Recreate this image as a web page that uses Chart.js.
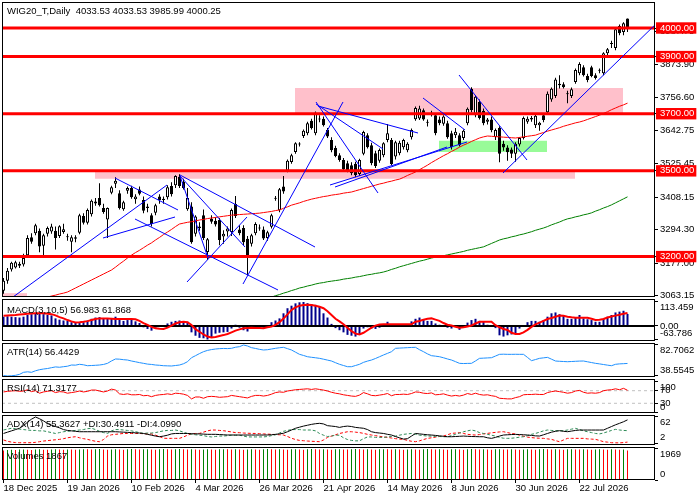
<!DOCTYPE html>
<html>
<head>
<meta charset="utf-8">
<script src="https://cdn.jsdelivr.net/npm/chart.js@4.4.1/dist/chart.umd.min.js"></script>
<style>
  body { margin: 0; background: #fff; width: 700px; height: 500px; overflow: hidden; position: relative; }
  canvas { position: absolute; left: 0; }
  .lbl { position: absolute; left: 7px; font: 9.5px 'Liberation Sans', Arial, sans-serif; color: #000; white-space: pre; line-height: 12px; }
</style>
</head>
<body>
<canvas id="cMain"></canvas>
<canvas id="cMacd"></canvas>
<canvas id="cAtr"></canvas>
<canvas id="cRsi"></canvas>
<canvas id="cAdx"></canvas>
<canvas id="cVol"></canvas>

<div class="lbl" style="top:5px">WIG20_T,Daily  4033.53 4033.53 3985.99 4000.25</div>
<div class="lbl" style="top:304px">MACD(3,10,5) 56.983 61.868</div>
<div class="lbl" style="top:346px">ATR(14) 56.4429</div>
<div class="lbl" style="top:382px">RSI(14) 71.3177</div>
<div class="lbl" style="top:418px">ADX(14) 55.3627 +DI:30.4911 -DI:4.0990</div>
<div class="lbl" style="top:450px">Volumes 1867</div>

<script>
/* ---------- data ---------- */
const dateTickBars = [0, 16, 32, 48, 64, 80, 96, 112, 128, 144];
const dateTickLabels = ["18 Dec 2025", "19 Jan 2026", "10 Feb 2026", "4 Mar 2026", "26 Mar 2026",
                        "21 Apr 2026", "14 May 2026", "8 Jun 2026", "30 Jun 2026", "22 Jul 2026"];

const opens = [
  3080,3115,3155,3162,3175,3172,3205,3268,3282,3290,
  3238,3280,3288,3290,3272,3286,3270,3252,3268,3283,
  3342,3318,3348,3386,3405,3370,3330,3423,3455,3422,
  3366,3430,3440,3401,3435,3398,3370,3345,3353,3410,
  3398,3408,3447,3450,3479,3462,3366,3375,3280,3305,
  3345,3216,3332,3325,3328,3270,3288,3286,3384,3295,
  3300,3262,3245,3282,3302,3295,3265,3304,3402,3362,
  3445,3500,3531,3566,3592,3622,3632,3675,3632,3682,
  3682,3643,3608,3580,3555,3538,3527,3520,3525,3489,
  3560,3625,3590,3562,3535,3555,3608,3608,3550,3562,
  3583,3572,3618,3681,3683,3712,3668,3700,3695,3680,
  3665,3667,3632,3625,3625,3615,3667,3787,3695,3741,
  3710,3672,3680,3618,3650,3595,3582,3575,3560,3592,
  3615,3672,3685,3660,3660,3695,3705,3750,3762,3805,
  3803,3770,3762,3811,3842,3863,3832,3863,3835,3850,
  3842,3912,3944,3930,4007,3986,4033.53
];
const highs = [
  3125,3160,3182,3185,3182,3210,3275,3282,3315,3298,
  3280,3305,3315,3305,3310,3315,3280,3275,3275,3350,
  3352,3368,3400,3405,3457,3385,3372,3448,3478,3432,
  3395,3445,3448,3418,3445,3410,3385,3352,3385,3418,
  3410,3450,3460,3485,3488,3472,3440,3390,3345,3320,
  3365,3265,3345,3338,3335,3292,3305,3368,3412,3310,
  3310,3272,3280,3320,3312,3305,3290,3350,3412,3440,
  3482,3540,3560,3600,3600,3645,3672,3682,3708,3695,
  3690,3650,3618,3588,3562,3545,3535,3530,3532,3542,
  3640,3632,3598,3570,3578,3600,3664,3615,3605,3605,
  3612,3600,3648,3725,3728,3718,3680,3710,3702,3690,
  3695,3675,3640,3650,3632,3645,3722,3793,3765,3750,
  3718,3685,3690,3648,3656,3605,3590,3582,3600,3618,
  3690,3690,3692,3700,3672,3700,3778,3792,3826,3835,
  3810,3780,3792,3858,3880,3870,3840,3868,3842,3858,
  3915,3930,3955,4002,4012,4020,4033.53
];
const lows = [
  3070,3105,3148,3158,3160,3165,3200,3245,3275,3215,
  3200,3270,3280,3225,3265,3280,3255,3215,3250,3278,
  3312,3312,3340,3378,3375,3350,3265,3418,3440,3365,
  3360,3420,3402,3385,3415,3352,3355,3305,3345,3385,
  3385,3400,3410,3440,3440,3435,3360,3245,3270,3290,
  3258,3188,3315,3305,3240,3245,3270,3272,3335,3275,
  3240,3135,3235,3275,3290,3258,3255,3298,3395,3355,
  3420,3495,3525,3560,3585,3615,3625,3645,3625,3670,
  3655,3615,3565,3548,3532,3500,3495,3485,3478,3482,
  3555,3578,3520,3510,3528,3548,3600,3520,3540,3555,
  3575,3565,3610,3675,3678,3675,3655,3690,3625,3660,
  3658,3612,3575,3615,3585,3608,3660,3705,3688,3680,
  3660,3662,3635,3608,3530,3570,3535,3545,3532,3585,
  3610,3665,3672,3650,3640,3670,3698,3742,3755,3788,
  3788,3737,3755,3805,3835,3830,3810,3828,3820,3842,
  3835,3905,3930,3922,3975,3975,3985.99
];
const closes = [
  3115,3150,3178,3180,3168,3195,3265,3252,3310,3235,
  3275,3300,3305,3265,3306,3296,3268,3268,3262,3345,
  3318,3363,3395,3393,3380,3356,3370,3443,3465,3370,
  3390,3440,3408,3410,3420,3360,3375,3314,3380,3398,
  3402,3443,3418,3482,3447,3440,3405,3250,3340,3300,
  3265,3261,3322,3312,3258,3280,3298,3363,3342,3282,
  3250,3205,3275,3314,3298,3263,3285,3345,3406,3436,
  3428,3535,3555,3597,3594,3640,3667,3650,3703,3680,
  3660,3620,3572,3552,3538,3506,3500,3492,3485,3538,
  3636,3583,3527,3517,3573,3597,3632,3524,3600,3598,
  3608,3595,3643,3720,3718,3680,3672,3702,3632,3667,
  3690,3618,3583,3637,3590,3640,3717,3713,3759,3685,
  3667,3680,3642,3643,3560,3582,3565,3560,3595,3615,
  3685,3682,3680,3693,3668,3678,3770,3787,3820,3800,
  3793,3768,3786,3853,3874,3835,3818,3832,3825,3851,
  3912,3926,3945,3996,3982,4017,4000.25
];

// red and green moving averages (null where the line is not visible)
const maRed = [
  null,null,null,null,null,null,null,null,null,null,
  3054,3058,3062,3065,3069,3072,3076,3083,3090,3097,
  3104,3111,3118,3125,3132,3139,3146,3153,3163,3174,
  3184,3195,3205,3214,3222,3231,3240,3248,3258,3267,
  3277,3286,3295,3305,3314,3317,3320,3322,3325,3328,
  3330,3333,3335,3337,3339,3341,3343,3345,3346,3347,
  3348,3349,3350,3351,3352,3354,3356,3358,3361,3363,
  3369,3374,3380,3384,3388,3393,3397,3401,3404,3407,
  3410,3412,3415,3417,3419,3422,3424,3426,3430,3434,
  3438,3442,3446,3450,3454,3457,3461,3464,3468,3471,
  3477,3484,3490,3496,3504,3512,3520,3529,3537,3545,
  3553,3560,3568,3575,3583,3590,3596,3603,3609,3615,
  3619,3622,3621,3620,3619,3618,3617,3616,3615,3617,
  3619,3621,3623,3625,3630,3634,3639,3643,3647,3651,
  3656,3660,3664,3668,3671,3675,3680,3685,3690,3695,
  3701,3707,3714,3720,3726,3731,3737
];
const maGreen = [
  null,null,null,null,null,null,null,null,null,null,
  null,null,null,null,null,null,null,null,null,null,
  null,null,null,null,null,null,null,null,null,null,
  null,null,null,null,null,null,null,null,null,null,
  null,null,null,null,null,null,null,null,null,null,
  null,null,null,null,null,null,null,null,null,null,
  null,null,null,null,null,null,3054,3058,3063,3067,
  3072,3076,3081,3085,3090,3093,3097,3100,3104,3107,
  3109,3112,3114,3116,3118,3121,3123,3125,3128,3130,
  3133,3136,3138,3141,3143,3146,3150,3155,3159,3164,
  3168,3172,3176,3180,3184,3187,3191,3195,3198,3200,
  3203,3206,3209,3212,3215,3218,3222,3225,3228,3231,
  3234,3240,3246,3252,3258,3262,3265,3269,3272,3276,
  3279,3283,3287,3292,3296,3300,3305,3311,3316,3321,
  3327,3332,3335,3339,3342,3346,3349,3353,3359,3364,
  3370,3375,3381,3388,3395,3402,3409
];

// horizontal levels, zones and trend lines (bar index, price)
const levelPrices = [4000, 3900, 3700, 3500, 3200];
const priceTicks = [3063.15, 3177.00, 3294.30, 3408.15, 3525.45, 3642.75, 3756.60, 3873.90, 3987.75];
const pinkZones = [[72.875, 154.875, 3700, 3790], [22.875, 142.875, 3472, 3500], [-0.375, 5.875, 3040, 3072]];
const greenZones = [[108.875, 135.875, 3566, 3605]];
const trendLines = [
  [2.375, 3058.5, 40.875, 3450.5],
  [24.875, 3265, 42.875, 3338.5],
  [27.875, 3475, 43.625, 3363],
  [32.875, 3331.5, 68.625, 3083],
  [44.125, 3485.5, 77.875, 3233.5],
  [44.125, 3482, 60.375, 3233.5],
  [44.125, 3482, 51.125, 3195],
  [45.875, 3111, 60.875, 3338.5],
  [59.875, 3104, 84.875, 3741],
  [78.625, 3727, 103.625, 3632.5],
  [78.125, 3741, 93.625, 3422.5],
  [78.125, 3734, 94.875, 3576.5],
  [81.625, 3450.5, 115.875, 3601],
  [82.875, 3443.5, 110.875, 3583.5],
  [104.875, 3755, 115.375, 3643],
  [113.875, 3835.5, 130.875, 3538],
  [124.875, 3492.5, 162.875, 4011]
];

const macdHist = [
  44,46,44,42,40,44,52,56,60,60,
  56,52,50,36,30,26,24,18,16,14,
  18,26,34,40,42,38,34,38,44,30,
  24,28,30,22,14,-6,-14,-22,-8,-4,
  -2,12,20,24,26,22,20,-30,-46,-56,
  -58,-63.786,-55,-36,-32,-30,-28,-12,6,-8,
  -20,-26,-14,-6,-4,-8,2,18,26,36,
  60,84,96,107,112,113.459,108,104,100,90,
  60,40,10,-10,-20,-30,-42,-46,-50,-38,
  -12,-6,-12,-14,-8,2,20,6,6,6,
  5,4,22,34,40,30,24,24,12,6,
  -2,-8,-12,-4,-18,-2,16,28,34,24,
  20,6,-2,-10,-44,-50,-44,-40,-36,-12,
  4,18,24,24,20,28,44,60,64,56,
  50,34,34,40,52,36,32,28,20,20,
  34,44,52,64,68,72,56.983
];
const macdSignal = [
  49,50,51,52,54,56,58,59,60,60,
  60,58,56,50,42,36,28,22,17,18,
  20,23,28,33,36,36,35,34,33,33,
  33,33,33,32,24,14,5,-4,-11,-13,
  -14,-8,2,12,18,20,18,5,-15,-27,
  -40,-50,-54,-52,-47,-43,-38,-30,-22,-16,
  -11,-9,-8,-9,-10,-11,-6,-3,5,18,
  35,55,76,88,96,99,100,99,96,91,
  84,70,52,34,22,8,-8,-24,-36,-40,
  -32,-20,-8,2,7,8,8,8,8,8,
  8,8,8,20,24,30,34,36,30,24,
  14,6,2,-4,-8,-6,-2,2,12,20,
  20,20,20,4,-6,-14,-19,-32,-38,-38,
  -30,-18,-4,8,16,24,33,38,44,49,
  48,44,41,39,39,39,39,34,28,30,
  33,40,45,49,53,58,61.868
];
const atr = [
  39.2,38.5545,38.9,39.5,40.9,43.8,44.5,43.8,46.0,47.5,
  48.5,49.2,50.4,51.5,51.0,51.8,52.5,54.2,54.0,55.2,
  54.5,53.2,53.5,53.8,54.2,55.0,56.6,60.0,62.8,62.5,
  61.8,61.3,59.9,58.8,57.6,56.6,55.5,55.0,54.2,53.8,
  53.2,53.0,52.8,53.5,54.2,56.0,58.9,64.6,67.5,70.5,
  73.2,75.0,76.2,77.0,77.5,77.8,77.6,78.0,79.5,80.3,
  82.7062,81.3,78.9,77.8,76.5,75.6,76.0,77.0,78.0,78.8,
  79.4,77.5,75.6,72.5,69.4,67.8,66.0,65.2,64.5,63.7,
  62.5,61.2,59.9,57.5,55.2,53.5,51.8,51.8,53.5,55.2,
  58.0,59.8,61.3,63.5,66.0,68.5,70.8,73.2,78.0,78.3,
  78.6,78.9,79.2,79.4,76.0,73.2,70.0,67.5,66.8,66.0,
  64.5,62.8,61.3,59.0,56.6,56.3,56.5,56.6,60.0,63.7,
  64.0,64.3,64.6,67.0,69.4,69.6,69.4,69.4,69.5,69.4,
  69.4,65.0,60.4,62.0,63.7,64.4,65.1,62.5,59.9,59.5,
  59.2,58.9,59.2,59.5,59.8,59.9,58.8,57.7,56.6,55.8,
  54.9,54.0,53.2,55.2,55.8,56.1,56.4429
];
const rsi = [
  66,68,69,70,68,69,73,67,70,62,
  66,68,70,64,67,66,62,64,66,69,
  66,68,72,72,69,66,69,75,72,60,
  58,60,57,57,58,54,55,51,55,57,
  58,60,58,62,61,59,55,44,50,50,
  46,51,52,51,49,50,51,55,53,51,
  49,47,52,55,55,53,55,59,64,66,
  65,69,71,73,74,75,76,74,76,74,
  72,69,65,62,60,57,55,53,52,56,
  64,60,55,54,56,58,61,54,58,58,
  59,58,61,66,65,62,61,63,57,58,
  60,56,53,55,53,56,61,58,62,58,
  56,57,54,52,46,45,44,44,48,51,
  57,58,58,59,58,58,64,67,69,67,
  65,62,64,69,71,65,62,63,62,64,
  70,72,73,76,73,77.5,71.3177
];
const rsiLevels = [70, 30];
const adx = [
  24,27,30,33,36,42,50,57,62,58,
  53,47,43,40,37,33,31,30,29,28,
  28,28,28,28,28,28,28,28,28,27.5,
  27,26.5,26,25.5,25,24,22,20,18,16.5,
  18,20,23,24,24,24,24,23.5,23,23,
  22.5,22,22,22,21.5,21,20.5,20.5,20.4,20.4,
  20.4,20.4,20.4,20.4,20.4,20.4,20.5,21,22,23,
  24.5,28,32,36,38.5,41,43,45,46.5,47.4,
  46,42,41,40,38,40,41,40,38,37,
  36,33,28,26,25,24,22,20.4,17,14,
  11,12,18,24,23,22,21,20.4,19.5,18.5,
  17.5,16.5,16.5,17,17.5,18,17.5,17,16.8,16.5,
  16.5,14,12.7,15,18,20.4,21,21.5,21.9,21.5,
  21,20.4,19.5,18.5,18.1,21,24,27,29,30.4,
  29,28.1,29.5,31,31.9,31.9,31.9,31.9,31.9,31.9,
  32,36,40,44,47.4,51,55.3627
];
const plusDi = [
  32,34,36,35,34,33,32,31,31,30,
  30,28,26,24,26,28,29,30,31,32,
  33,35,36,33,29,26,24,30,33,33,
  32,31,30,28,26,24,25,25,26,28,
  30,31,31,32,30,27,24,22,21,20,
  19,17,16,17,18,18,19,20,20,20,
  18,16,16,16,16,16,17,19,21,25,
  29,31,33,33,33,32,32,32,30,24,
  20,17,18,20,20,14,10,8,7,7,
  12,16,16,15,15,15,16,17,18,20,
  22,23,24,22,20,19,18,18,17,17,
  16.5,16.5,19,22,25,28,30,32,30,26,
  24,22,20,18,15,13,12.7,13,14,15.5,
  16.5,19,22,24,27,30,32,31,30.5,30.4,
  30.4,32,34,35.8,33,30,28,26,24,23,
  25,28,31,33.5,32,31,30.4911
];
const minusDi = [
  9,6,4,3,2.7,2.7,2.7,2.7,3.5,5,
  6.5,7.5,8.5,9.5,10.4,12,14,15.5,16.5,14,
  12,10.4,8,6,5,10,18,21,22,23,
  24,24,24,24,24,23.5,23,23,20,17,
  13,12.7,12.7,12.7,12.7,16,20,23,24,24.2,
  27,30,32,31.9,31,30.4,29,27.5,26,25.8,
  25,24.5,24.2,24,23.5,23,22.5,22,21.5,21,
  20.4,17,13,10,8,7.3,6.5,6,5.5,5,
  9,15,18,21,24,26,28,28,27,26,
  24.2,22,20.4,19,17.5,16,15,13.5,12,11,
  10.4,8,6,5,7,10,12.7,14,15.5,17,
  18.1,21,24.2,25,25.8,24,22,21,20.4,21.5,
  23,24.2,25.5,26.5,27.5,28.1,26,24,22.9,20,
  17.5,15.5,14.5,13.5,13,12.7,11.5,10.4,7.5,5,
  9,12.7,12.7,12.7,12.7,12.7,11.5,11,10.4,8,
  5,4,2.7,2.5,2.3,3,4.099
];
const volumes = [
  1880,1902,1925,1910,1931,1944,1920,1908,1935,1949,
  1927,1915,1938,1952,1941,1926,1945,1933,1918,1940,
  1955,1946,1930,1948,1962,1939,1921,1943,1957,1944,
  1929,1951,1965,1950,1934,1947,1960,1942,1925,1949,
  1963,1951,1937,1954,1969,1948,1930,1952,1940,1922,
  1945,1958,1943,1928,1950,1961,1946,1931,1953,1938,
  1920,1944,1957,1941,1927,1949,1962,1947,1932,1955,
  1940,1924,1946,1959,1944,1929,1951,1963,1948,1933,
  1956,1941,1925,1947,1960,1945,1930,1952,1964,1949,
  1934,1956,1942,1926,1948,1961,1946,1931,1953,1939,
  1922,1945,1958,1943,1928,1950,1962,1947,1932,1954,
  1941,1924,1946,1959,1944,1929,1951,1963,1949,1934,
  1956,1942,1927,1948,1960,1945,1930,1952,1938,1921,
  1944,1957,1942,1927,1949,1962,1947,1932,1955,1940,
  1925,1947,1960,1945,1930,1952,1937,1920,1943,1956,
  1941,1926,1948,1935,1918,1940,1867
];

// right-axis labels of the indicator windows
const macdTicks = [113.459, 0, -63.786];
const macdTickText = ["113.459", "0.00", "-63.786"];
const atrTicks = [82.7062, 38.5545];
const atrTickText = ["82.7062", "38.5545"];
const rsiTicks = [100, 70, 30, 0];
const rsiTickText = ["100", "70", "30", "0"];
const adxTicks = [62, 2];
const adxTickText = ["62", "2"];
const volTicks = [1969, 0];
const volTickText = ["1969", "0"];

/* ---------- chart setup ---------- */
const X_MIN = -0.375, X_MAX = 162.875;
const FONT = { family: "'Liberation Sans', Arial, sans-serif", size: 9.5 };

const framePlugin = {
    id: "frame",
    afterDraw(chart) {
        const a = chart.chartArea, ctx = chart.ctx;
        ctx.save();
        ctx.strokeStyle = "#000";
        ctx.lineWidth = 1;
        ctx.strokeRect(Math.round(a.left) + 0.5, Math.round(a.top) + 0.5,
                       Math.round(a.right - a.left) - 1, Math.round(a.bottom - a.top) - 1);
        ctx.restore();
    }
};

function pts(arr) {
    const out = [];
    arr.forEach((v, i) => { if (v !== null) out.push({ x: i, y: v }); });
    return out;
}

function lineSet(data, color, width, order, dash) {
    return {
        type: "line", data, borderColor: color, borderWidth: width,
        borderDash: dash || [], pointRadius: 0, tension: 0, fill: false, order
    };
}

function zoneSet(z, color) {
    return {
        type: "line",
        data: [{ x: z[0], y: z[3] }, { x: z[1], y: z[3] }],
        borderColor: "rgba(0,0,0,0)", borderWidth: 1, pointRadius: 0,
        fill: { value: z[2] }, backgroundColor: color, order: 9
    };
}

function hLine(y, color, width, order, dash) {
    return lineSet([{ x: X_MIN, y }, { x: X_MAX, y }], color, width, order, dash);
}

// top label sits under its value, bottom label above, like the terminal does
function insideLabels(texts) {
    return (v, i) => {
        if (i === 0) return ["", texts[i]];
        if (i === texts.length - 1) return [texts[i], ""];
        return texts[i];
    };
}

function panel(id, top, bottom, datasets, yMin, yMax, tickVals, tickOpts, withDates) {
    const cv = document.getElementById(id);
    const padTop = Math.min(8, top);
    const padBottom = withDates ? 0 : 8;
    const axisH = withDates ? 500 - bottom : 0;
    cv.width = 700;
    cv.height = padTop + (bottom - top) + padBottom + axisH;
    cv.style.top = (top - padTop) + "px";

    const xScale = {
        type: "linear", min: X_MIN, max: X_MAX, offset: false, display: !!withDates,
        position: "bottom",
        grid: { offset: false, drawOnChartArea: false, drawTicks: true, tickLength: 3, color: "#000" },
        border: { display: false }
    };
    if (withDates) {
        xScale.afterBuildTicks = s => { s.ticks = dateTickBars.map(v => ({ value: v })); };
        xScale.afterFit = s => { s.height = axisH; s.paddingLeft = 0; s.paddingRight = 0; };
        xScale.ticks = {
            autoSkip: false, maxRotation: 0, minRotation: 0, align: "start", padding: 0,
            font: FONT, color: "#000", callback: (v, i) => dateTickLabels[i]
        };
    }

    return new Chart(cv, {
        type: "bar",
        data: { datasets },
        options: {
            responsive: false,
            animation: false,
            devicePixelRatio: 1,
            events: [],
            layout: { padding: { left: 2, right: 0, top: padTop, bottom: padBottom }, autoPadding: false },
            plugins: { legend: { display: false }, tooltip: { enabled: false } },
            scales: {
                x: xScale,
                y: {
                    position: "right", min: yMin, max: yMax, bounds: "data",
                    afterFit: s => { s.width = 45; s.paddingTop = 0; s.paddingBottom = 0; },
                    afterBuildTicks: s => { s.ticks = tickVals.map(v => ({ value: v })); },
                    grid: { drawOnChartArea: false, drawTicks: true, tickLength: 3, color: "#000" },
                    border: { display: false },
                    ticks: Object.assign({ autoSkip: false, padding: 2, font: FONT, color: "#000" }, tickOpts)
                }
            }
        },
        plugins: [framePlugin]
    });
}

/* ---------- main price window ---------- */
const mainSets = [];
trendLines.forEach(t => mainSets.push(lineSet([{ x: t[0], y: t[1] }, { x: t[2], y: t[3] }], "#0000ff", 1, 0)));
levelPrices.forEach(p => mainSets.push(hLine(p, "#ff0000", 3, 1)));
mainSets.push(lineSet(pts(maRed), "#ff0000", 1, 2));
mainSets.push(lineSet(pts(maGreen), "#008000", 1, 2));
mainSets.push({
    type: "bar",
    data: opens.map((o, i) => ({ x: i, y: [o, closes[i]] })),
    backgroundColor: opens.map((o, i) => closes[i] >= o ? "#ffffff" : "#000000"),
    borderColor: "#000000", borderWidth: 1, borderSkipped: false,
    barThickness: 3, minBarLength: 1, grouped: false, inflateAmount: 0, order: 3
});
mainSets.push({
    type: "bar",
    data: lows.map((l, i) => ({ x: i, y: [l, highs[i]] })),
    backgroundColor: "#000000", borderWidth: 0,
    barThickness: 1, grouped: false, inflateAmount: 0, order: 4
});
pinkZones.forEach(z => mainSets.push(zoneSet(z, "#ffc0cb")));
greenZones.forEach(z => mainSets.push(zoneSet(z, "#98fb98")));

const isLevel = c => !!(c.tick && levelPrices.includes(c.tick.value));
panel("cMain", 2, 297, mainSets, 3058.5, 4091, priceTicks.concat(levelPrices), {
    color: c => isLevel(c) ? "#ffffff" : "#000000",
    showLabelBackdrop: c => isLevel(c),
    backdropColor: "#ff0000",
    backdropPadding: { left: 4, right: 2, top: 0, bottom: 0 },
    callback: v => v.toFixed(2)
});

/* ---------- MACD ---------- */
panel("cMacd", 299, 341, [
    lineSet(pts(macdSignal), "#ff0000", 2, 0),
    hLine(0, "#000000", 2, 1),
    {
        type: "bar", data: pts(macdHist), backgroundColor: "#00008b", borderWidth: 0,
        barThickness: 2, grouped: false, inflateAmount: 0, order: 2
    }
], -70.9, 127.6, macdTicks, { callback: insideLabels(macdTickText) });

/* ---------- ATR ---------- */
panel("cAtr", 343, 377, [
    lineSet(pts(atr), "#1e90ff", 1, 0)
], 37.13, 85.55, atrTicks, { callback: insideLabels(atrTickText) });

/* ---------- RSI ---------- */
const rsiSets = [lineSet(pts(rsi), "#ff0000", 1, 0)];
rsiLevels.forEach(l => rsiSets.push(hLine(l, "#c0c0c0", 1, 1, [3, 3])));
panel("cRsi", 379, 413, rsiSets, -0.8, 107.1, rsiTicks, { callback: insideLabels(rsiTickText) });

/* ---------- ADX ---------- */
panel("cAdx", 415, 445, [
    lineSet(pts(adx), "#000000", 1, 0),
    lineSet(pts(plusDi), "#2e8b57", 1, 1, [3, 2]),
    lineSet(pts(minusDi), "#ff0000", 1, 2, [3, 2])
], -2.6, 66.6, adxTicks, { callback: insideLabels(adxTickText) });

/* ---------- Volumes ---------- */
panel("cVol", 447, 480, [
    {
        type: "bar", data: pts(volumes),
        backgroundColor: volumes.map((v, i) => i > 0 && v > volumes[i - 1] ? "#008000" : "#ff0000"),
        borderWidth: 0, barThickness: 1, grouped: false, inflateAmount: 0, order: 0
    }
], 0, 2096, volTicks, { callback: insideLabels(volTickText) }, true);
</script>
</body>
</html>
